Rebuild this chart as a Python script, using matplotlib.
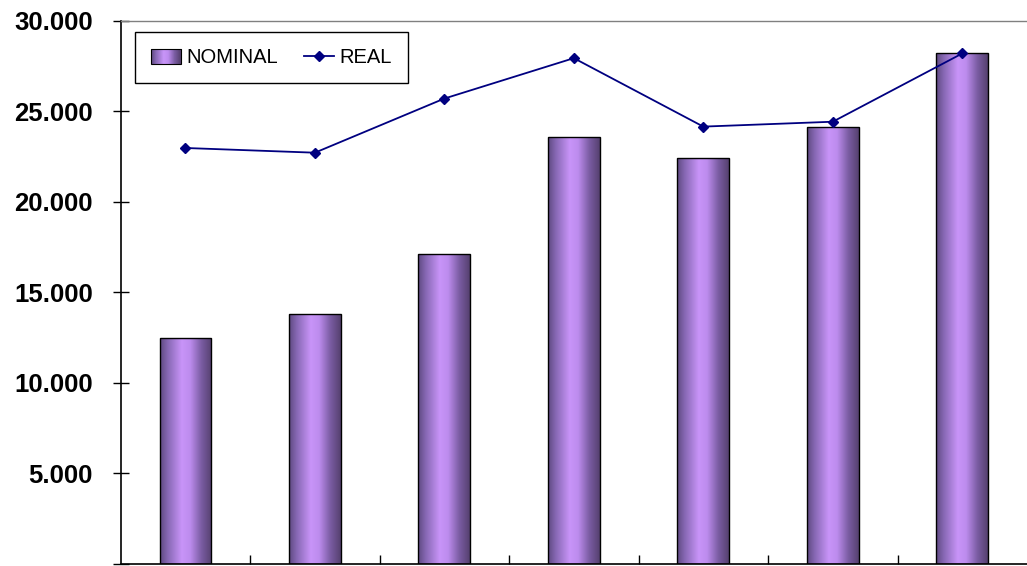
import numpy as np
import matplotlib
matplotlib.use("Agg")
import matplotlib.pyplot as plt
from matplotlib.colors import LinearSegmentedColormap
from matplotlib.patches import Rectangle
from matplotlib.legend_handler import HandlerPatch

plt.rcParams['font.family'] = ['Liberation Sans', 'DejaVu Sans']

# values
years = ['1', '2', '3', '4', '5', '6', '7']
nominal = [12470, 13780, 17130, 23600, 22420, 24150, 28190]
real = [22970, 22710, 25700, 27930, 24150, 24420, 28190]
yticks = [0, 5000, 10000, 15000, 20000, 25000, 30000]
ytick_labels = ['', '5.000', '10.000', '15.000', '20.000', '25.000', '30.000']

# horizontal shading of the bars
bar_cmap = LinearSegmentedColormap.from_list('barshade', [
    (0.0, '#5e4980'), (0.15, '#8768b4'), (0.42, '#c894f8'),
    (0.58, '#bd8cee'), (0.8, '#7a5ca2'), (1.0, '#55406e')])
grad = np.linspace(0, 1, 256).reshape(1, -1)


class GradientHandler(HandlerPatch):
    def create_artists(self, legend, orig_handle, xdescent, ydescent,
                       width, height, fontsize, trans):
        n = 30
        arts = []
        for i in range(n):
            r = Rectangle((-xdescent + width * i / n, -ydescent), width / n + 0.3, height,
                          facecolor=bar_cmap(i / (n - 1)), edgecolor='none', transform=trans)
            arts.append(r)
        arts.append(Rectangle((-xdescent, -ydescent), width, height, facecolor='none',
                              edgecolor='black', linewidth=0.8, transform=trans))
        return arts


fig = plt.figure(figsize=(10.27, 5.66), dpi=100)
ax = fig.add_axes([0.1175, 0.0035, 0.8825, 0.96])

x = np.arange(len(years))
bars = ax.bar(x, nominal, width=0.4, facecolor='none', edgecolor='black', linewidth=1, zorder=3)
for b in bars:
    x0, y0 = b.get_x(), b.get_y()
    w, h = b.get_width(), b.get_height()
    im = ax.imshow(grad, cmap=bar_cmap, aspect='auto', extent=(x0, x0 + w, y0, y0 + h),
                   zorder=2, interpolation='bilinear')
    im.set_clip_path(b)

ax.plot(x, real, color='#000080', linewidth=1.3, marker='D', markersize=5.5, zorder=4)

ax.set_xlim(-0.5, 6.5)
ax.set_ylim(0, 30000)
ax.set_aspect('auto')
ax.set_yticks(yticks)
ax.set_yticklabels(ytick_labels, fontsize=18.5, fontweight='bold')
ax.set_xticks(x[:-1] + 0.5)
ax.set_xticklabels([])
ax.tick_params(axis='y', direction='inout', length=12, width=1, pad=14)
ax.tick_params(axis='x', direction='in', length=6.5, width=1)

ax.spines['right'].set_visible(False)
ax.spines['top'].set_color('#808080')
ax.spines['top'].set_linewidth(1)
ax.spines['left'].set_linewidth(1.2)
ax.spines['bottom'].set_linewidth(1.2)

handle_bar = Rectangle((0, 0), 1, 1)
handle_line, = ax.plot([], [], color='#000080', linewidth=1.3, marker='D', markersize=5.5)
leg = ax.legend([handle_bar, handle_line], ['NOMINAL', 'REAL'], ncol=2,
                loc='upper left', bbox_to_anchor=(0.0158, 0.9787), borderaxespad=0,
                fontsize=14.5, fancybox=False, framealpha=1, edgecolor='black',
                handlelength=1.5, handleheight=0.75, handletextpad=0.25,
                columnspacing=1.3, borderpad=0.8,
                handler_map={Rectangle: GradientHandler()})
leg.get_frame().set_linewidth(1)

fig.savefig('out.png', dpi=100)
